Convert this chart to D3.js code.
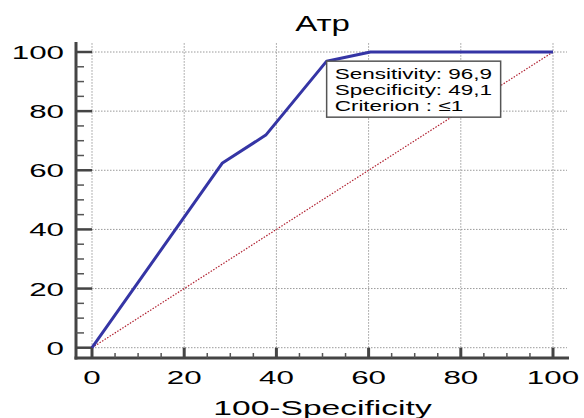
<!DOCTYPE html>
<html>
<head>
<meta charset="utf-8">
<script src="https://cdn.jsdelivr.net/npm/d3@7"></script>
<style>
  body { margin: 0; background: #fff; }
  text { font-family: "Liberation Sans", Arial, sans-serif; fill: #000; }
</style>
</head>
<body>
<script>
// ROC curve points (100-Specificity, Sensitivity)
var fpr = [0, 28.3, 37.7, 50.9, 60.4, 100];
var sens = [0, 62.5, 71.9, 96.9, 100, 100];
var refLine = [0, 100];
var majorTicks = [0, 20, 40, 60, 80, 100];
var minorTicks = [5, 10, 15, 25, 30, 35, 45, 50, 55, 65, 70, 75, 85, 90, 95];
var labelLines = ["Sensitivity: 96,9", "Specificity: 49,1", "Criterion : \u22641"];
var cutPoint = 3; // index of the labelled point

var totalWidth = 584, totalHeight = 418;
var plotLeft = 92, plotRight = 553, plotTop = 52, plotBottom = 347.7;

var xScale = d3.scaleLinear().domain([0, 100]).range([plotLeft, plotRight]);
var yScale = d3.scaleLinear().domain([0, 100]).range([plotBottom, plotTop]);

var svg = d3.select("body").append("svg")
	.attr("width", totalWidth)
	.attr("height", totalHeight);

// the fonts in the picture are drawn wide, so stretch the text horizontally
function wideText(g, x, y, str, size, anchor, sx) {
	return g.append("text")
		.attr("transform", "translate(" + x + "," + y + ") scale(" + sx + ",1)")
		.attr("text-anchor", anchor)
		.style("font-size", size + "px")
		.text(str);
}

// grid
var grid = svg.append("g");
grid.selectAll("line.h").data(majorTicks).enter().append("line")
	.attr("x1", xScale(0)).attr("x2", xScale(100) + 14)
	.attr("y1", d => yScale(d)).attr("y2", d => yScale(d))
	.style("stroke", "#9a9a9a").style("stroke-width", 1).style("stroke-dasharray", "1.5,1.5");
grid.selectAll("line.v").data(majorTicks).enter().append("line")
	.attr("x1", d => xScale(d)).attr("x2", d => xScale(d))
	.attr("y1", yScale(0)).attr("y2", yScale(100) - 9)
	.style("stroke", "#9a9a9a").style("stroke-width", 1).style("stroke-dasharray", "1.5,1.5");

// axes lines
var axisX = 76, axisY = 358;
svg.append("line")
	.attr("x1", axisX).attr("x2", axisX).attr("y1", yScale(100) - 10).attr("y2", axisY + 1.5)
	.style("stroke", "#444").style("stroke-width", 3);
svg.append("line")
	.attr("x1", axisX - 1.5).attr("x2", xScale(100) + 16).attr("y1", axisY).attr("y2", axisY)
	.style("stroke", "#444").style("stroke-width", 3);

// y ticks
svg.selectAll("line.ymaj").data(majorTicks).enter().append("line")
	.attr("x1", axisX).attr("x2", xScale(0))
	.attr("y1", d => yScale(d)).attr("y2", d => yScale(d))
	.style("stroke", "#444").style("stroke-width", 2.5);
svg.selectAll("line.ymin").data(minorTicks).enter().append("line")
	.attr("x1", axisX).attr("x2", axisX + 8)
	.attr("y1", d => yScale(d)).attr("y2", d => yScale(d))
	.style("stroke", "#555").style("stroke-width", 1.5);

// x ticks
svg.selectAll("line.xmaj").data(majorTicks).enter().append("line")
	.attr("x1", d => xScale(d)).attr("x2", d => xScale(d))
	.attr("y1", axisY).attr("y2", yScale(0))
	.style("stroke", "#444").style("stroke-width", 3);
svg.selectAll("line.xmin").data(minorTicks).enter().append("line")
	.attr("x1", d => xScale(d)).attr("x2", d => xScale(d))
	.attr("y1", axisY).attr("y2", axisY - 5)
	.style("stroke", "#555").style("stroke-width", 1.5);

// tick labels
majorTicks.forEach(function(d) {
	wideText(svg, 64, yScale(d) + 7, d, 19, "end", 1.65);
	wideText(svg, xScale(d), 384, d, 19, "middle", 1.65);
});

// reference diagonal
svg.append("line")
	.attr("x1", xScale(refLine[0])).attr("y1", yScale(refLine[0]))
	.attr("x2", xScale(refLine[1])).attr("y2", yScale(refLine[1]))
	.style("stroke", "#b02030").style("stroke-width", 1.2).style("stroke-dasharray", "1.5,1.5");

// ROC curve
var line = d3.line()
	.x((d, i) => xScale(fpr[i]))
	.y((d, i) => yScale(sens[i]));
svg.append("path")
	.datum(fpr)
	.attr("d", line)
	.style("fill", "none")
	.style("stroke", "#3535a5")
	.style("stroke-width", 3)
	.style("stroke-linejoin", "round");

// annotation box at the cut point
var bx = xScale(fpr[cutPoint]), by = yScale(sens[cutPoint]);
var note = svg.append("g");
note.append("rect")
	.attr("x", bx).attr("y", by)
	.attr("width", 174).attr("height", 56)
	.style("fill", "#fff").style("stroke", "#555").style("stroke-width", 1.5);
labelLines.forEach(function(t, i) {
	wideText(note, bx + 8, by + 18 + i * 16, t, 15, "start", 1.5);
});

// titles
wideText(svg, (plotLeft + plotRight) / 2, 31, "Атр", 22, "middle", 1.5);
wideText(svg, (plotLeft + plotRight) / 2, 415, "100-Specificity", 21, "middle", 1.6);
</script>
</body>
</html>
